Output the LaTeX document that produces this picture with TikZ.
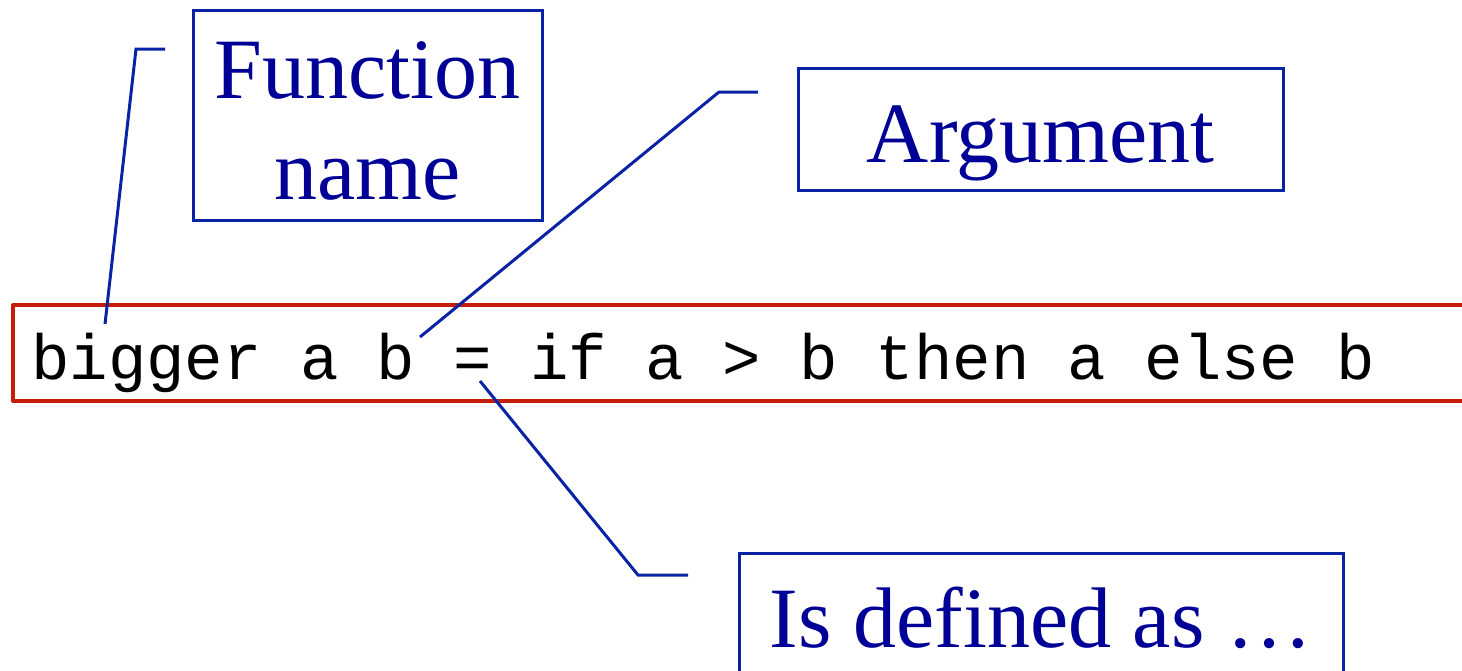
\documentclass[tikz,border=0pt]{standalone}
\usepackage{fontspec}
\setmainfont{Liberation Serif}
\setmonofont{Liberation Mono}
\usepackage{xcolor}

\definecolor{callblue}{RGB}{0,0,150}
\definecolor{leadblue}{RGB}{10,35,165}
\definecolor{codered}{RGB}{195,30,10}

\begin{document}
\begin{tikzpicture}[
    x=1pt, y=-1pt,
    callout/.style={draw=leadblue, line width=3pt, text=callblue, inner sep=0pt,
        font=\fontsize{86}{101}\selectfont},
    leader/.style={leadblue, line width=3pt},
    frame/.style={codered, line width=4pt, line join=round},
]

    \useasboundingbox (0,0) rectangle (1462,670);

    % =============================================================
    % The definition, in a frame that runs off the right edge
    % =============================================================
    \draw[frame] (1475,305) -- (13,305) -- (13,401) -- (1475,401);
    \node[anchor=base west, inner sep=0pt,
          font=\fontsize{64}{64}\selectfont\ttfamily] (code) at (31,379)
        {bigger a b = if a > b then a else b};

    % =============================================================
    % The three call-outs
    % =============================================================
    \node[callout, minimum width=349pt, minimum height=210pt, align=center,
          text height=184pt, text depth=16pt] (fname) at (367.5,115)
        {Function\\name};
    \node[callout, minimum width=485pt, minimum height=122pt,
          text height=80pt, text depth=14pt] (arg) at (1040.5,129)
        {Argument};
    \node[callout, minimum width=604pt, minimum height=122pt,
          text height=80pt, text depth=14pt] (defas) at (1041,614)
        {Is defined as …};

    % leader lines: tip on the code, knee, free end short of the box
    \coordinate (fnTip)   at (105,324);
    \coordinate (fnKnee)  at (136,49);
    \coordinate (fnEnd)   at (165,49);
    \coordinate (argTip)  at (420,337);
    \coordinate (argKnee) at (719,92);
    \coordinate (argEnd)  at (758,92);
    \coordinate (defTip)  at (480,381);
    \coordinate (defKnee) at (638,575);
    \coordinate (defEnd)  at (688,575);

    \draw[leader] (fnTip) -- (fnKnee) -- (fnEnd);
    \draw[leader] (argTip) -- (argKnee) -- (argEnd);
    \draw[leader] (defTip) -- (defKnee) -- (defEnd);

\end{tikzpicture}
\end{document}
